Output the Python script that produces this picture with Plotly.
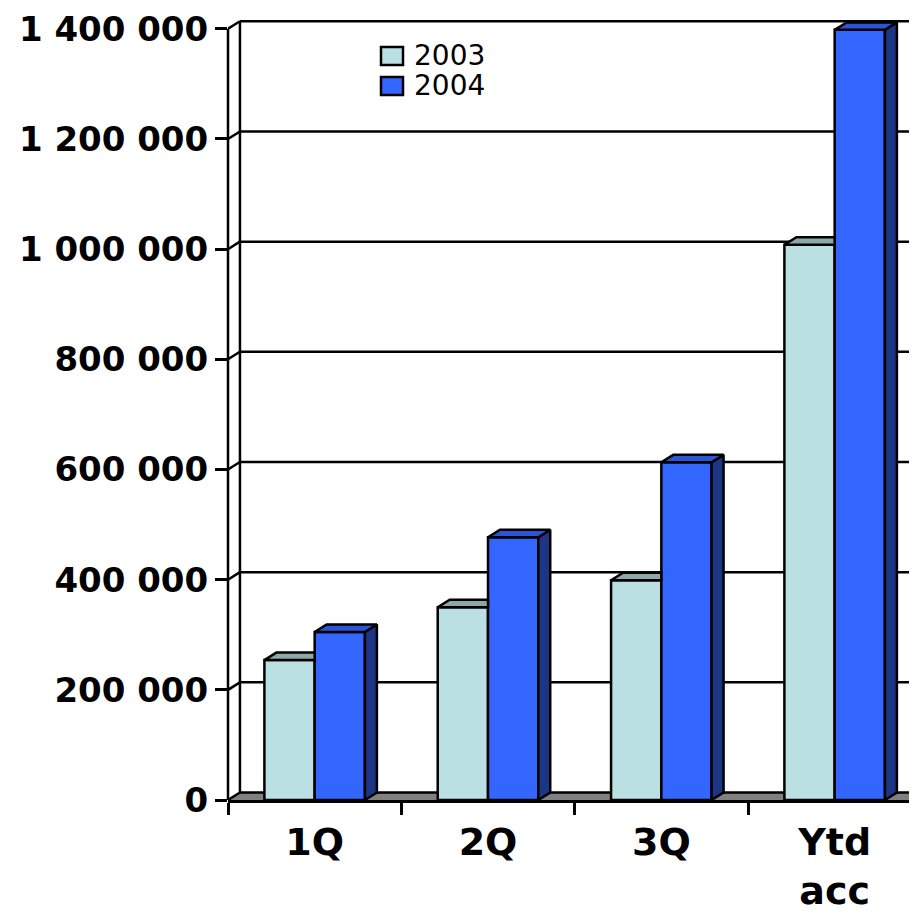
import plotly.graph_objects as go

categories = ["1Q", "2Q", "3Q", "Ytd<br>acc"]
series_names = ["2003", "2004"]
sales_2003 = [254000, 350000, 399000, 1008000]
sales_2004 = [305000, 477000, 613000, 1398000]
y_ticks = [0, 200000, 400000, 600000, 800000, 1000000, 1200000, 1400000]

# page / plot geometry (the html body adds an 8px margin)
PAGE = 8
W, H = 909, 907
ML, MR, MT, MB = 220, 0, 7, 115
X_MIN, X_MAX = -0.5, 3.475
Y_MAX = 1425000
BAR_W = 0.29
DX = 0.069      # fake 3d depth, in x units
DY = 13600      # fake 3d depth, in y units
LW = 2.5

FRONT = {"2003": "#BBE0E3", "2004": "#3366FF"}
TOP = {"2003": "#8CA8A9", "2004": "#2B55D6"}
SIDE = "#1D3585"
FLOOR = "#808080"
FONT = "DejaVu Sans"

xs = list(range(len(categories)))


def faces(polys, color):
    px, py = [], []
    for poly in polys:
        for a, b in poly + [poly[0]]:
            px.append(a)
            py.append(b)
        px.append(None)
        py.append(None)
    return go.Scatter(x=px, y=py, mode="lines", fill="toself", fillcolor=color,
                      line=dict(color="black", width=LW), hoverinfo="skip",
                      showlegend=False)


fig = go.Figure()

# front faces of the columns
fig.add_bar(x=xs, y=sales_2003, name=series_names[0], width=BAR_W, offset=-BAR_W,
            marker=dict(color=FRONT["2003"], line=dict(color="black", width=LW)))
fig.add_bar(x=xs, y=sales_2004, name=series_names[1], width=BAR_W, offset=0,
            marker=dict(color=FRONT["2004"], line=dict(color="black", width=LW)))

# top of 2003 columns (right part hidden by the 2004 column)
tops03 = []
for x, v in zip(xs, sales_2003):
    x0, x1 = x - BAR_W, x
    tops03.append([(x0, v), (x0 + DX, v + DY), (x1, v + DY), (x1, v)])
fig.add_trace(faces(tops03, TOP["2003"]))

sides04, tops04 = [], []
for x, v in zip(xs, sales_2004):
    x0, x1 = x, x + BAR_W
    sides04.append([(x1, 0), (x1, v), (x1 + DX, v + DY), (x1 + DX, DY)])
    tops04.append([(x0, v), (x0 + DX, v + DY), (x1 + DX, v + DY), (x1, v)])
fig.add_trace(faces(sides04, SIDE))
fig.add_trace(faces(tops04, TOP["2004"]))

# floor, back wall gridlines, side wall
line = dict(color="black", width=LW)
fig.add_shape(type="path", xref="x", yref="y", layer="below",
              path=f"M{X_MIN},0 L{X_MIN + DX},{DY} L{X_MAX + 1},{DY} L{X_MAX + 1},0 Z",
              fillcolor=FLOOR, line=dict(width=0))
for v in y_ticks:
    fig.add_shape(type="line", xref="x", yref="y", layer="below",
                  x0=X_MIN + DX, y0=v + DY, x1=X_MAX + 1, y1=v + DY, line=line)
    fig.add_shape(type="line", xref="x", yref="y", layer="below",
                  x0=X_MIN, y0=v, x1=X_MIN + DX, y1=v + DY, line=line)
fig.add_shape(type="line", xref="x", yref="y", layer="below",
              x0=X_MIN + DX, y0=DY, x1=X_MIN + DX, y1=y_ticks[-1] + DY, line=line)
fig.add_shape(type="line", xref="paper", yref="y", layer="above",
              x0=0, y0=0, x1=0, y1=y_ticks[-1], line=line)

# legend, drawn by hand so the rows sit as tight as the original
ph = H - MT - MB
pw = W - ML - MR


def px_x(sx):
    return (sx - PAGE - ML) / pw


def px_y(sy):
    return (H - MB - (sy - PAGE)) / ph


for i, name in enumerate(series_names):
    top_px = 47 + i * 30
    fig.add_shape(type="rect", xref="paper", yref="paper",
                  x0=px_x(381), x1=px_x(403), y0=px_y(top_px), y1=px_y(top_px + 18),
                  fillcolor=FRONT[name], line=dict(color="black", width=2.5))
    fig.add_annotation(xref="paper", yref="paper", x=px_x(412), y=px_y(top_px + 9),
                       text=name, showarrow=False, xanchor="left", yanchor="middle",
                       font=dict(family=FONT, size=28, color="black"))

fig.update_layout(
    width=W, height=H,
    margin=dict(l=ML, r=MR, t=MT, b=MB),
    paper_bgcolor="white", plot_bgcolor="white",
    barmode="overlay", showlegend=False,
    separators=", ",
    xaxis=dict(range=[X_MIN, X_MAX], tickmode="array", tickvals=xs, ticktext=categories,
               ticks="", showgrid=False, zeroline=False, automargin=False,
               showline=True, linecolor="black", linewidth=3, ticklabelstandoff=6,
               tickfont=dict(family=FONT, size=38, color="black", weight="bold"),
               minor=dict(tickmode="array", tickvals=[i - 0.5 for i in range(len(categories) + 1)],
                          ticks="outside", ticklen=12, tickwidth=2.5, tickcolor="black")),
    yaxis=dict(range=[0, Y_MAX], tickmode="array", tickvals=y_ticks, tickformat=",",
               ticks="outside", ticklen=12, tickwidth=2.5, tickcolor="black",
               showgrid=False, zeroline=False, showline=False, automargin=False,
               tickfont=dict(family=FONT, size=34, color="black", weight="bold")),
)

fig.write_html("out.html")
